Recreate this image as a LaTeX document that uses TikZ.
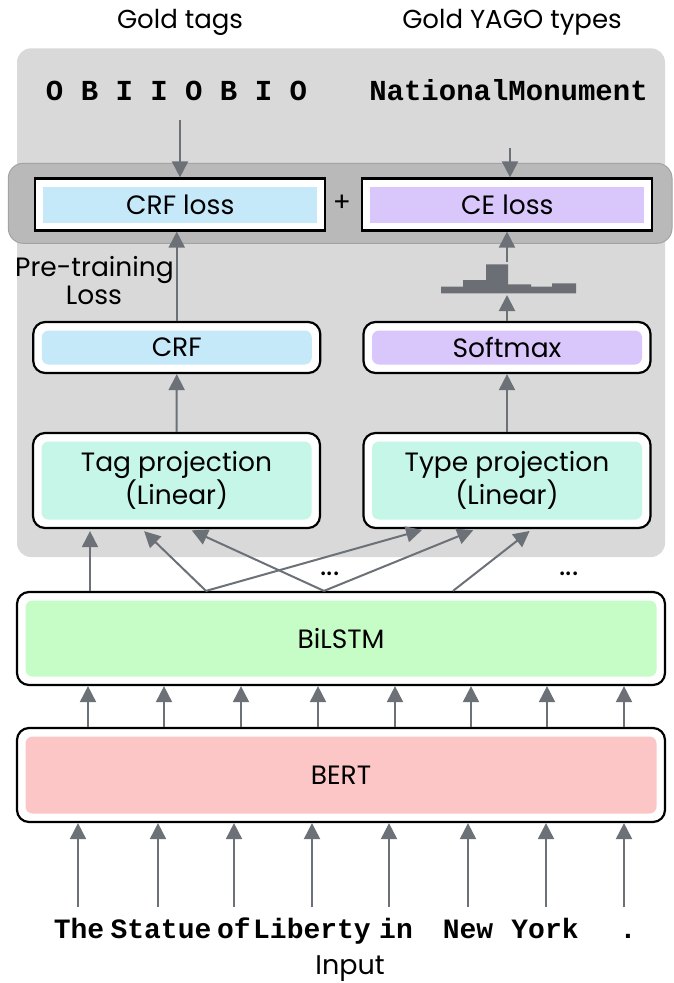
\documentclass[tikz,border=0pt]{standalone}
\usepackage{fontspec}
\setmainfont{Poppins}
\newfontfamily\monof{Liberation Mono}
\usetikzlibrary{arrows.meta}
\definecolor{panelc}{HTML}{D9D9D9}
\definecolor{bandc}{HTML}{B9B9B9}
\definecolor{bandd}{HTML}{A3A3A3}
\definecolor{arrc}{HTML}{6C7178}
\definecolor{histc}{HTML}{6B6F75}
\definecolor{bluec}{HTML}{C6E9FA}
\definecolor{purpc}{HTML}{D9C7FB}
\definecolor{tealc}{HTML}{C5F6E7}
\definecolor{greenc}{HTML}{C6FCC6}
\definecolor{pinkc}{HTML}{FCC6C6}
\tikzset{
  arr/.style={draw=arrc, line width=2pt, -{Triangle[length=16pt,width=16pt]}},
  lbl/.style={font=\fontsize{26.5}{31}\selectfont, text=black},
  hdr/.style={font=\fontsize{26}{31}\selectfont, text=black},
  dotsty/.style={font=\fontsize{30}{34}\selectfont, text=black, anchor=base},
  monotop/.style={font=\monof\bfseries\fontsize{29}{34}\selectfont, text=black},
  monobot/.style={font=\monof\bfseries\fontsize{28}{34}\selectfont, text=black},
  lossbox/.style={draw=black, line width=2.2pt, fill=white, inner sep=0pt,
    minimum width=290pt, minimum height=52pt, lbl,
    path picture={\fill[#1] ([shift={(8pt,-8pt)}]path picture bounding box.north west)
      rectangle ([shift={(-8pt,8pt)}]path picture bounding box.south east);}},
  rbox/.style={draw=black, line width=2.2pt, fill=white, rounded corners=12pt,
    inner sep=0pt, lbl, align=center,
    path picture={\fill[#1, rounded corners=7pt] ([shift={(8.5pt,-8.5pt)}]path picture bounding box.north west)
      rectangle ([shift={(-8.5pt,8.5pt)}]path picture bounding box.south east);}}
}
\begin{document}
\begin{tikzpicture}[x=1pt,y=-1pt]
\fill[white] (0,0) rectangle (673,983);
\useasboundingbox (0,0) rectangle (673,983);
% background panels
\fill[panelc, rounded corners=14pt] (17,48.3) rectangle (665,557);
\filldraw[fill=bandc, draw=bandd, line width=1pt, rounded corners=15pt] (8.3,163.3) rectangle (672,243.3);

% headers
\node[hdr, anchor=base] (goldtags) at (180,28.3) {Gold tags};
\node[hdr, anchor=base] (goldyago) at (512,28.3) {Gold YAGO types};
\node[monotop, anchor=base] (tags) at (176.5,100) {O B I I O B I O};
\node[monotop, anchor=base] (ytype) at (508.5,100) {NationalMonument};

% loss boxes
\node[lossbox=bluec] (crfloss) at (180.3,204.5) {CRF loss};
\node[lossbox=purpc] (celoss) at (507.3,204.5) {CE loss};
\node[lbl] (plus) at (342,203) {+};

\node[lbl, anchor=base] (pt1) at (94.5,276) {Pre-training};
\node[lbl, anchor=base] (pt2) at (94,304) {Loss};

% heads
\node[rbox=bluec, minimum width=287pt, minimum height=51pt] (crf) at (176.75,347.5) {CRF};
\node[rbox=purpc, minimum width=287pt, minimum height=51pt] (softmax) at (507,347.5) {Softmax};
\node[rbox=tealc, minimum width=287pt, minimum height=95pt] (tagproj) at (176.5,480.5) {Tag projection\\(Linear)};
\node[rbox=tealc, minimum width=287pt, minimum height=95pt] (typeproj) at (507,480.5) {Type projection\\(Linear)};

% encoders
\node[rbox=greenc, minimum width=648pt, minimum height=93pt] (bilstm) at (341,638.5) {BiLSTM};
\node[rbox=pinkc, minimum width=648pt, minimum height=94pt] (bert) at (341,775) {BERT};

% dots
\node[dotsty] (dots1) at (330,575) {...};
\node[dotsty] (dots2) at (569,575) {...};

% histogram
\fill[histc] (441,293.3) -- (441,286.7) -- (463,286.7) -- (463,280) -- (486,280) -- (486,264.3)
  -- (508,264.3) -- (508,284.3) -- (531,284.3) -- (531,286.7) -- (552,286.7) -- (552,283.3)
  -- (576,283.3) -- (576,293.3) -- cycle;
\coordinate (hbot) at (507,295);
\coordinate (htop) at (507,262);

% input words
\node[monobot, anchor=base] (w1) at (79,938) {The};
\node[monobot, anchor=base] (w2) at (161,938) {Statue};
\node[monobot, anchor=base] (w3) at (234,938) {of};
\node[monobot, anchor=base] (w4) at (312,938) {Liberty};
\node[monobot, anchor=base] (w5) at (396,938) {in};
\node[monobot, anchor=base] (w6) at (468,938) {New};
\node[monobot, anchor=base] (w7) at (545,938) {York};
\node[monobot, anchor=base] (w8) at (628,938) {.};
\node[font=\fontsize{27}{31}\selectfont, anchor=base] (input) at (350,974) {Input};

% arrows top
\coordinate (tagsS) at (180,120);
\coordinate (ytS) at (510,148);
\draw[arr] (tagsS) -- (tagsS |- crfloss.north);
\draw[arr] (ytS) -- (ytS |- celoss.north);
\draw[arr] (crf.north) -- (crf.north |- crfloss.south);
\draw[arr] (tagproj.north) -- (crf.south);
\draw[arr] (typeproj.north) -- (softmax.south);
\draw[arr] (softmax.north) -- (hbot);
\draw[arr] (htop) -- (htop |- celoss.south);

% cross arrows from BiLSTM
\draw[arr, shorten >=2pt] ([xshift=-251pt]bilstm.north) -- ([xshift=-86.5pt]tagproj.south);
\draw[arr, shorten >=3pt] ([xshift=-135pt]bilstm.north) -- ([xshift=-34.5pt]tagproj.south);
\draw[arr, shorten >=3pt] ([xshift=-135pt]bilstm.north) -- ([xshift=-82pt]typeproj.south);
\draw[arr, shorten >=3pt] ([xshift=-17pt]bilstm.north) -- ([xshift=12.5pt]tagproj.south);
\draw[arr, shorten >=3pt] ([xshift=-17pt]bilstm.north) -- ([xshift=-31pt]typeproj.south);
\draw[arr, shorten >=3pt] ([xshift=112pt]bilstm.north) -- ([xshift=25pt]typeproj.south);

% BERT -> BiLSTM
\foreach \dx in {-253,-177,-100,-23,54,130,206,283}
  \draw[arr] ([xshift=\dx pt]bert.north) -- ([xshift=\dx pt]bilstm.south);

% input -> BERT
\foreach \x/\n in {78/1,158/2,234/3,312/4,389/5,468/6,546/7,624/8}{
  \coordinate (in\n) at (\x,907);
  \draw[arr] (in\n) -- (in\n |- bert.south);
}
\end{tikzpicture}
\end{document}
